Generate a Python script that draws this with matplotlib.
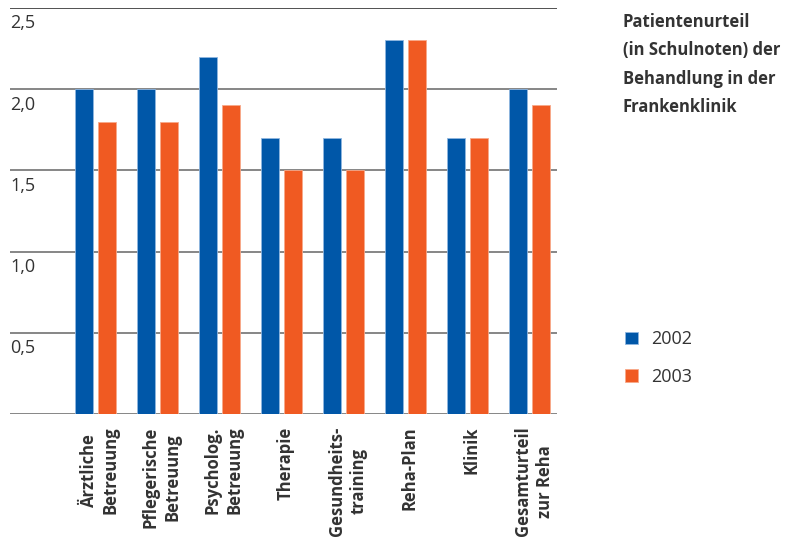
import matplotlib.pyplot as plt
import matplotlib.transforms as mtransforms
import numpy as np

plt.rcParams["font.family"] = ["Open Sans", "DejaVu Sans"]

categories = [
    "Ärztliche\nBetreuung",
    "Pflegerische\nBetreuung",
    "Psycholog.\nBetreuung",
    "Therapie",
    "Gesundheits-\ntraining",
    "Reha-Plan",
    "Klinik",
    "Gesamturteil\nzur Reha",
]
noten_2002 = [2.0, 2.0, 2.2, 1.7, 1.7, 2.3, 1.7, 2.0]
noten_2003 = [1.8, 1.8, 1.9, 1.5, 1.5, 2.3, 1.7, 1.9]
y_ticks = [0.5, 1.0, 1.5, 2.0, 2.5]
y_tick_labels = ["0,5", "1,0", "1,5", "2,0", "2,5"]

blue = "#0057a8"
orange = "#f05a22"
text_color = "#333333"

fig = plt.figure(figsize=(7.96, 5.45), dpi=100)
ax = fig.add_axes([10 / 796, 1 - 414 / 545, 547 / 796, 406 / 545])

x = np.arange(len(categories))
width = 0.29
offset = 0.185

# gridlines first so the bars sit on top of them
for y in [0.0] + y_ticks:
    color = "#222222" if y == 2.5 else "#666666"
    ax.axhline(y, color=color, linewidth=1.1, zorder=1)

ax.bar(x - offset, noten_2002, width, color=blue, edgecolor="#8fb6e0",
       linewidth=0.6, zorder=2, label="2002")
ax.bar(x + offset, noten_2003, width, color=orange, edgecolor="#f7a98a",
       linewidth=0.6, zorder=2, label="2003")

ax.set_xlim(-1.38, 7.44)
ax.set_ylim(0, 2.5)
for side in ax.spines.values():
    side.set_visible(False)
ax.set_yticks([])
ax.set_xticks(x)
ax.set_xticklabels(categories, rotation=90, fontsize=12, fontweight="bold",
                   color=text_color, linespacing=1.3, va="top", ha="center")
ax.tick_params(axis="x", length=0, pad=9)

# nudge the category labels a little to the right of the group centre
shift = mtransforms.ScaledTranslation(4 / 100, 0, fig.dpi_scale_trans)
for lab in ax.get_xticklabels():
    lab.set_transform(lab.get_transform() + shift)

# y labels hang just below their gridline at the left edge
for y, lab in zip(y_ticks, y_tick_labels):
    ax.text(-1.38, y - 0.04, lab, fontsize=13, color=text_color,
            ha="left", va="top")

fig.text(623 / 796, 1 - 13 / 545,
         "Patientenurteil\n(in Schulnoten) der\nBehandlung in der\nFrankenklinik",
         fontsize=12, fontweight="bold", color=text_color, ha="left",
         va="top", linespacing=1.75)

handles, labels = ax.get_legend_handles_labels()
leg = fig.legend(handles, labels, loc="upper left",
                 bbox_to_anchor=(609 / 796, 1 - 314 / 545), frameon=False,
                 fontsize=13, handlelength=0.7, handleheight=0.7,
                 labelspacing=1.1, handletextpad=0.75)
for t in leg.get_texts():
    t.set_color(text_color)

fig.savefig("out.png", dpi=100)
